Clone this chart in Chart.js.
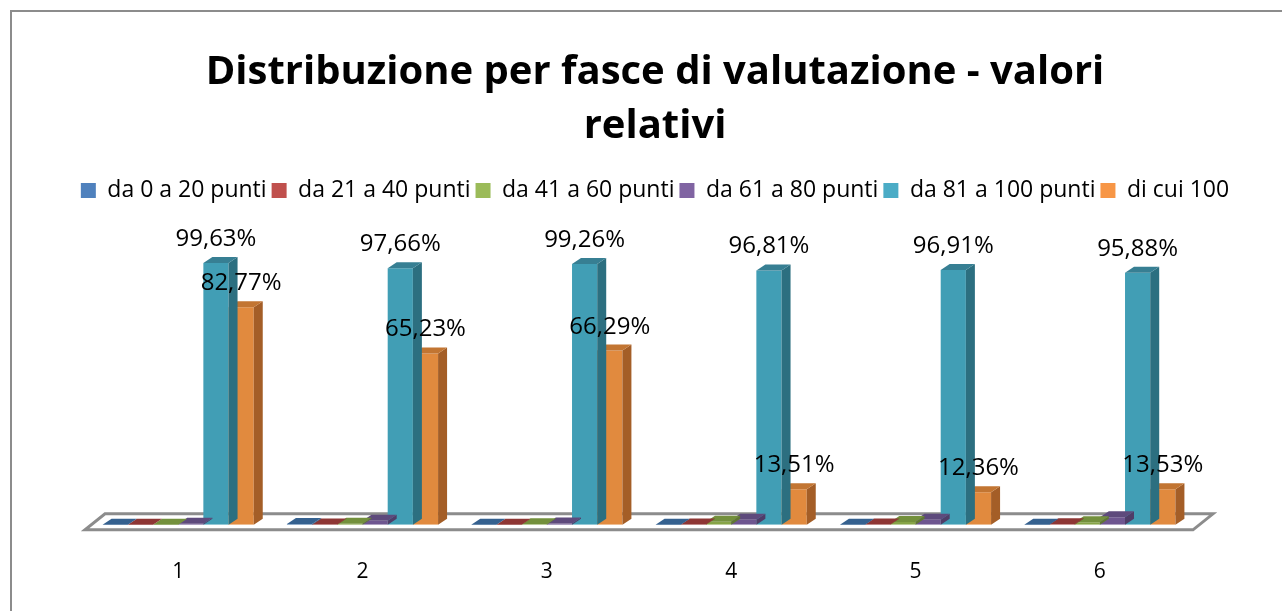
<!DOCTYPE html>
<html>
<head>
<meta charset="utf-8">
<script src="https://cdn.jsdelivr.net/npm/chart.js@4"></script>
<style>
  body { margin: 0; background: #fff; overflow: hidden; }
  #frame { position: absolute; left: 10px; top: 10px; width: 1300px; height: 700px; border-left: 2px solid #8c8c8c; border-top: 2px solid #8c8c8c; }
  canvas { position: absolute; left: 0; top: 0; }
</style>
</head>
<body>
<canvas id="chart" width="1282" height="611"></canvas>
<div id="frame"></div>
<script>
const categories = ["1", "2", "3", "4", "5", "6"];
const seriesNames = ["da 0 a 20 punti", "da 21 a 40 punti", "da 41 a 60 punti", "da 61 a 80 punti", "da 81 a 100 punti", "di cui 100"];
const da0a20 = [0, 0.31, 0, 0, 0, 0];
const da21a40 = [0, 0.08, 0, 0.1, 0.1, 0.2];
const da41a60 = [0, 0.39, 0.25, 1.2, 1.1, 1.0];
const da61a80 = [0.37, 1.56, 0.49, 1.89, 1.89, 2.92];
const da81a100 = [99.63, 97.66, 99.26, 96.81, 96.91, 95.88];
const dicui100 = [82.77, 65.23, 66.29, 13.51, 12.36, 13.53];

const frontColors = ["#3F6FA3", "#A8403D", "#86A447", "#6E5690", "#419EB5", "#E18A3E"];
const sideColors = ["#2C5079", "#7A2D2B", "#5F7732", "#4F3D68", "#2C6F80", "#A45E27"];
const topColors = ["#35618F", "#8E3634", "#73903C", "#5E4A7C", "#377F93", "#C27532"];
const legendColors = ["#4F81BD", "#C0504D", "#9BBB59", "#8064A2", "#4BACC6", "#F79646"];
const labelled = [4, 5];

const DX = 9, DY = 6;
const FONT = "'Open Sans', sans-serif";

function fmt(v) {
  return v.toFixed(2).replace(".", ",") + "%";
}

const bar3d = {
  id: "bar3d",
  beforeInit(chart) {
    // extra room under the legend
    const fit = chart.legend.fit;
    chart.legend.fit = function () {
      fit.call(this);
      this.height += 50;
    };
  },
  beforeDatasetsDraw(chart) {
    const ctx = chart.ctx;
    const a = chart.chartArea;
    const base = chart.scales.y.getPixelForValue(0);
    ctx.save();
    ctx.beginPath();
    ctx.moveTo(a.left - 1, base + 5);
    ctx.lineTo(a.right + 1, base + 5);
    ctx.lineTo(a.right + 21, base - 11);
    ctx.lineTo(a.left + 19, base - 11);
    ctx.closePath();
    ctx.fillStyle = "#ffffff";
    ctx.fill();
    ctx.lineWidth = 3;
    ctx.strokeStyle = "#8c8c8c";
    ctx.stroke();
    ctx.restore();
  },
  afterDatasetDraw(chart, args) {
    const i = args.index;
    const ctx = chart.ctx;
    const meta = chart.getDatasetMeta(i);
    ctx.save();
    meta.data.forEach(el => {
      const p = el.getProps(["x", "y", "base", "width"], true);
      const l = p.x - p.width / 2, r = p.x + p.width / 2;
      ctx.fillStyle = sideColors[i];
      ctx.beginPath();
      ctx.moveTo(r, p.y);
      ctx.lineTo(r + DX, p.y - DY);
      ctx.lineTo(r + DX, p.base - DY);
      ctx.lineTo(r, p.base);
      ctx.closePath();
      ctx.fill();
      ctx.fillStyle = topColors[i];
      ctx.beginPath();
      ctx.moveTo(l, p.y);
      ctx.lineTo(l + DX, p.y - DY);
      ctx.lineTo(r + DX, p.y - DY);
      ctx.lineTo(r, p.y);
      ctx.closePath();
      ctx.fill();
    });
    ctx.restore();
  },
  afterDatasetsDraw(chart) {
    const ctx = chart.ctx;
    ctx.save();
    ctx.font = "24px " + FONT;
    ctx.fillStyle = "#000";
    ctx.textAlign = "center";
    ctx.textBaseline = "alphabetic";
    labelled.forEach(i => {
      const meta = chart.getDatasetMeta(i);
      meta.data.forEach((el, j) => {
        const v = chart.data.datasets[i].data[j];
        ctx.fillText(fmt(v), el.x, el.y - 17);
      });
    });
    ctx.restore();
  }
};

const allSeries = [da0a20, da21a40, da41a60, da61a80, da81a100, dicui100];

new Chart(document.getElementById("chart"), {
  type: "bar",
  data: {
    labels: categories,
    datasets: allSeries.map((d, i) => ({
      label: seriesNames[i],
      data: d,
      backgroundColor: frontColors[i],
      borderWidth: 0,
      categoryPercentage: 0.82,
      barPercentage: 1.0,
      yAxisID: "y"
    }))
  },
  options: {
    responsive: false,
    animation: false,
    devicePixelRatio: 1,
    layout: { padding: { left: 28, right: 0, top: 0, bottom: -9 } },
    plugins: {
      title: {
        display: true,
        text: ["Distribuzione per fasce di valutazione - valori", "relativi"],
        font: { family: FONT, size: 40, weight: "bold", lineHeight: 1.35 },
        color: "#000",
        padding: { top: 46, bottom: 20 }
      },
      legend: {
        position: "top",
        labels: {
          boxWidth: 15,
          boxHeight: 15,
          padding: 5,
          color: "#000",
          font: { family: FONT, size: 23 },
          generateLabels() {
            return seriesNames.map((n, i) => ({
              text: n,
              fillStyle: legendColors[i],
              strokeStyle: legendColors[i],
              lineWidth: 0,
              datasetIndex: i
            }));
          }
        }
      },
      tooltip: { enabled: false }
    },
    scales: {
      x: {
        grid: { display: false, drawTicks: false },
        border: { display: false },
        ticks: { color: "#000", font: { family: FONT, size: 21 }, padding: 35 }
      },
      y: {
        position: "left",
        min: 0,
        max: 100,
        grid: { display: false, drawTicks: false },
        border: { display: false },
        ticks: { display: false },
        afterFit(scale) { scale.width = 58; }
      },
      yRight: {
        position: "right",
        grid: { display: false, drawTicks: false },
        border: { display: false },
        ticks: { display: false },
        afterFit(scale) { scale.width = 90; }
      }
    }
  },
  plugins: [bar3d]
});
</script>
</body>
</html>
